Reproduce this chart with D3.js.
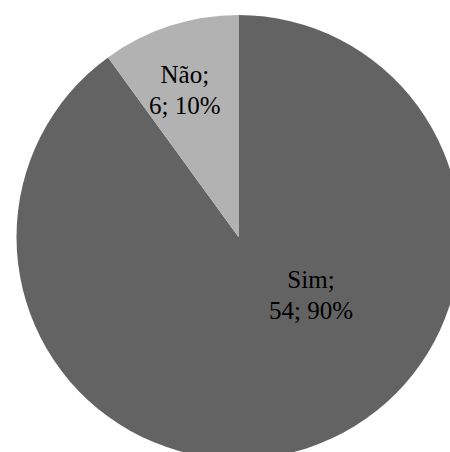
<!DOCTYPE html>
<html>
<head>
<meta charset="utf-8">
<script src="https://cdn.jsdelivr.net/npm/d3@7"></script>
<style>
  html, body { margin: 0; padding: 0; background: #fff; overflow: hidden; }
  svg { display: block; }
</style>
</head>
<body>
<svg id="chart" width="450" height="452"></svg>
<script>
// Answers and counts
const categories = ["Sim", "Não"];
const counts = [54, 6];
const percents = ["90%", "10%"];
const colors = ["#636363", "#b2b2b2"];
// Label placement for each slice: angle (deg, clockwise from top) and radius
const labelAngles = [128, 340];
const labelRadii = [92, 157];

const svg = d3.select("#chart");
const cx = 238.5, cy = 237, radius = 222;

const data = categories.map((c, i) => ({ name: c, value: counts[i], pct: percents[i], color: colors[i], la: labelAngles[i], lr: labelRadii[i] }));

const pie = d3.pie().value(d => d.value).sort(null);
const arc = d3.arc().innerRadius(0).outerRadius(radius);

const g = svg.append("g").attr("transform", `translate(${cx},${cy})`);

const arcs = pie(data);
g.selectAll("path").data(arcs).enter().append("path")
  .attr("d", arc)
  .attr("fill", d => d.data.color);

const labels = g.selectAll("text.lbl").data(arcs).enter().append("text")
  .attr("class", "lbl")
  .attr("text-anchor", "middle")
  .attr("font-family", "'Liberation Serif', 'Times New Roman', serif")
  .attr("font-size", 25)
  .attr("fill", "#000")
  .attr("transform", d => {
    const a = d.data.la * Math.PI / 180;
    return `translate(${Math.sin(a) * d.data.lr},${-Math.cos(a) * d.data.lr})`;
  });

labels.append("tspan").attr("x", 0).attr("y", -6).text(d => d.data.name + ";");
labels.append("tspan").attr("x", 0).attr("y", 25).text(d => d.data.value + "; " + d.data.pct);
</script>
</body>
</html>
